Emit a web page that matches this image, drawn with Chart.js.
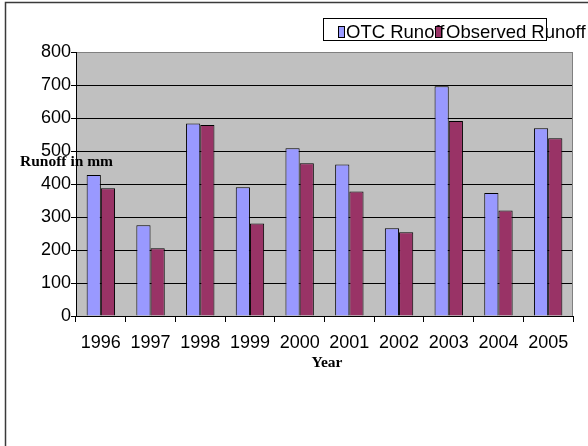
<!DOCTYPE html>
<html>
<head>
<meta charset="utf-8">
<script src="https://cdn.jsdelivr.net/npm/chart.js@4"></script>
<style>
  html, body { margin: 0; padding: 0; background: #fff; }
  canvas { display: block; }
</style>
</head>
<body>
<canvas id="runoff" width="588" height="446"></canvas>
<script>
const years = ['1996', '1997', '1998', '1999', '2000', '2001', '2002', '2003', '2004', '2005']
const otcRunoff = [427, 275, 583, 390, 508, 459, 266, 696, 373, 569]
const observedRunoff = [387, 205, 579, 280, 463, 377, 254, 591, 320, 539]
const yTicks = [0, 100, 200, 300, 400, 500, 600, 700, 800]

const sans = 'Liberation Sans, Arial, sans-serif'
const serif = 'Liberation Serif, Times New Roman, serif'

// grey plot area, frame, axis titles and the boxed legend
const decorations = {
    id: 'decorations',
    beforeDraw(chart) {
        const { ctx, chartArea: a } = chart
        ctx.save()
        ctx.fillStyle = '#fff'
        ctx.fillRect(0, 0, chart.width, chart.height)
        ctx.strokeStyle = '#3a3a3a'
        ctx.lineWidth = 1.5
        ctx.strokeRect(5.5, 2.5, 800, 800)
        ctx.fillStyle = '#c0c0c0'
        ctx.fillRect(a.left, a.top, a.right - a.left, a.bottom - a.top)
        ctx.restore()
    },
    beforeDatasetsDraw(chart) {
        const { ctx, chartArea: a } = chart
        ctx.save()
        ctx.strokeStyle = '#808080'
        ctx.lineWidth = 1
        ctx.beginPath()
        ctx.moveTo(a.right - 0.5, a.top)
        ctx.lineTo(a.right - 0.5, a.bottom)
        ctx.stroke()
        ctx.restore()
    },
    afterDraw(chart) {
        const { ctx } = chart
        ctx.save()
        ctx.fillStyle = '#000'
        ctx.textBaseline = 'alphabetic'

        ctx.font = 'bold 15.5px ' + serif
        ctx.textAlign = 'left'
        ctx.fillText('Runoff in mm', 20, 166)

        ctx.textAlign = 'center'
        ctx.fillText('Year', 327, 367)

        // legend: box drawn narrower than its text, as in the source chart
        ctx.strokeStyle = '#000'
        ctx.lineWidth = 1
        ctx.strokeRect(323.5, 18.5, 223, 22)
        ctx.font = '18.5px ' + sans
        ctx.textAlign = 'left'
        const items = [
            { x: 338, tx: 346 },
            { x: 435, tx: 446 }
        ]
        chart.data.datasets.forEach((ds, i) => {
            const it = items[i]
            ctx.fillStyle = '#000'
            ctx.fillText(ds.label, it.tx, 37.5)
            ctx.fillStyle = ds.backgroundColor
            ctx.fillRect(it.x + 0.5, 26.5, 6, 11)
            ctx.strokeRect(it.x + 0.5, 26.5, 6, 11)
        })
        ctx.restore()
    }
}

const data = {
    labels: years,
    datasets: [
        {
            label: 'OTC Runoff',
            data: otcRunoff,
            backgroundColor: '#9999ff',
            borderColor: '#000',
            borderWidth: 1
        },
        {
            label: 'Observed Runoff',
            data: observedRunoff,
            backgroundColor: '#993366',
            borderColor: '#000',
            borderWidth: 1
        }
    ]
}

const options = {
    responsive: false,
    animation: false,
    events: [],
    layout: {
        padding: { left: 0, top: 52, right: 15, bottom: 0 }
    },
    datasets: {
        bar: {
            categoryPercentage: 2 / 3.5,
            barPercentage: 1
        }
    },
    plugins: {
        legend: { display: false },
        tooltip: { enabled: false }
    },
    scales: {
        x: {
            grid: {
                drawOnChartArea: false,
                color: '#000',
                tickLength: 6
            },
            border: { color: '#000', width: 1 },
            ticks: {
                color: '#000',
                font: { family: sans, size: 18 },
                padding: 10,
                maxRotation: 0
            },
            afterFit(scale) { scale.height = 130 }
        },
        y: {
            min: 0,
            max: 800,
            afterBuildTicks(scale) {
                scale.ticks = yTicks.map(v => ({ value: v }))
            },
            grid: {
                color: ctx => ctx.tick && ctx.tick.value === 800 ? '#808080' : '#000',
                tickColor: '#000',
                tickLength: 5
            },
            border: { color: '#000', width: 1 },
            ticks: {
                color: '#000',
                font: { family: sans, size: 18 },
                padding: 0
            },
            afterFit(scale) { scale.width = 76 }
        }
    }
}

new Chart(document.getElementById('runoff'), {
    type: 'bar',
    data: data,
    options: options,
    plugins: [decorations]
})
</script>
</body>
</html>
